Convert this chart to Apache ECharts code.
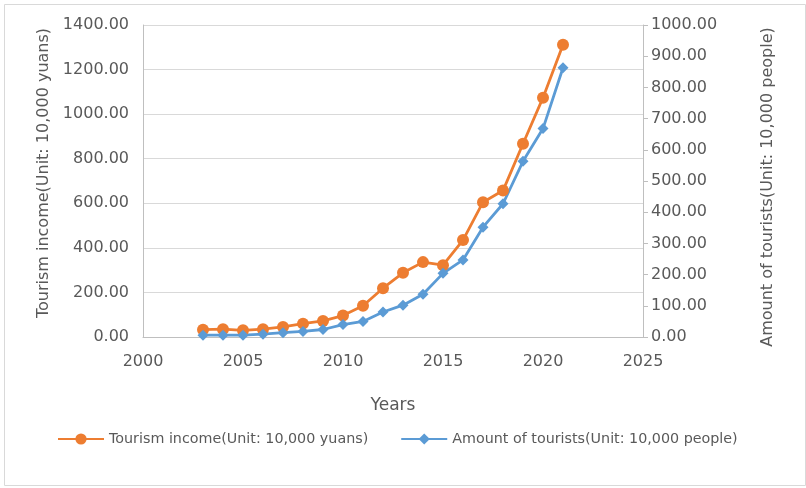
<!DOCTYPE html>
<html>
<head>
<meta charset="utf-8">
<script src="https://cdn.jsdelivr.net/npm/echarts@6/dist/echarts.min.js"></script>
<style>
html,body{margin:0;padding:0;background:#fff;}
#c{width:806px;height:488px;}
</style>
</head>
<body>
<div id="c"></div>
<script>
var years = [2003,2004,2005,2006,2007,2008,2009,2010,2011,2012,2013,2014,2015,2016,2017,2018,2019,2020,2021];
var income = [33,35,30,35,45,60,72,96,140,219,288,336,322,435,605,657,867,1074,1311];
var tourists = [6,6,6,9,14,18,24,40,50,80,102,137,204,247,352,427,563,668,863];
var incomeName = 'Tourism income(Unit: 10,000 yuans)';
var touristsName = 'Amount of tourists(Unit: 10,000 people)';
var leftTitle = 'Tourism income(Unit: 10,000 yuans)';
var rightTitle = 'Amount of tourists(Unit: 10,000 people)';
var xTitle = 'Years';

function pairs(xs, ys){ return xs.map(function(x,i){ return [x, ys[i]]; }); }
var FONT = 'DejaVu Sans';
var TXT = '#595959';

var chart = echarts.init(document.getElementById('c'));
chart.setOption({
  animation: false,
  textStyle: {fontFamily: FONT},
  graphic: [{
    type: 'rect', left: 2, top: 2,
    shape: {width: 801, height: 481},
    style: {fill: 'none', stroke: '#d9d9d9', lineWidth: 1}
  }],
  grid: {left: 143, right: 163, top: 25, bottom: 151, containLabel: false},
  legend: {
    bottom: 37, left: 52, itemGap: 32, itemWidth: 46, itemHeight: 14,
    textStyle: {color: TXT, fontSize: 14.3, fontFamily: FONT},
    data: [incomeName, touristsName]
  },
  xAxis: {
    type: 'value', min: 2000, max: 2025, interval: 5,
    name: xTitle, nameLocation: 'middle', nameGap: 60,
    nameTextStyle: {color: TXT, fontSize: 17, fontFamily: FONT},
    axisLine: {show: true, lineStyle: {color: '#bfbfbf'}},
    axisTick: {show: false},
    splitLine: {show: false},
    axisLabel: {color: TXT, fontSize: 16, margin: 17, fontFamily: FONT,
      formatter: function(v){ return String(v); }}
  },
  yAxis: [{
    type: 'value', min: 0, max: 1400, interval: 200, position: 'left',
    name: leftTitle, nameLocation: 'middle', nameGap: 90, nameRotate: 90,
    nameTextStyle: {color: TXT, fontSize: 16, fontFamily: FONT, padding: [0, 0, 0, 16]},
    axisLine: {show: true, lineStyle: {color: '#bfbfbf'}},
    axisTick: {show: false},
    splitLine: {show: true, lineStyle: {color: '#d9d9d9'}},
    axisLabel: {color: TXT, fontSize: 16, margin: 14, fontFamily: FONT,
      formatter: function(v){ return v.toFixed(2); }}
  },{
    type: 'value', min: 0, max: 1000, interval: 100, position: 'right',
    name: rightTitle, nameLocation: 'middle', nameGap: 117, nameRotate: 90,
    nameTextStyle: {color: TXT, fontSize: 16, fontFamily: FONT, padding: [0, 12, 0, 0]},
    axisLine: {show: true, lineStyle: {color: '#bfbfbf'}},
    axisTick: {show: true, length: 5, lineStyle: {color: '#bfbfbf'}},
    splitLine: {show: false},
    axisLabel: {color: TXT, fontSize: 16, margin: 8, fontFamily: FONT,
      formatter: function(v){ return v.toFixed(2); }}
  }],
  series: [{
    name: incomeName, type: 'line', yAxisIndex: 0,
    data: pairs(years, income),
    symbol: 'circle', symbolSize: 12,
    lineStyle: {color: '#ED7D31', width: 2.8},
    itemStyle: {color: '#ED7D31'}
  },{
    name: touristsName, type: 'line', yAxisIndex: 1,
    data: pairs(years, tourists),
    symbol: 'diamond', symbolSize: 11,
    lineStyle: {color: '#5B9BD5', width: 2.8},
    itemStyle: {color: '#5B9BD5'}
  }]
});
</script>
</body>
</html>
